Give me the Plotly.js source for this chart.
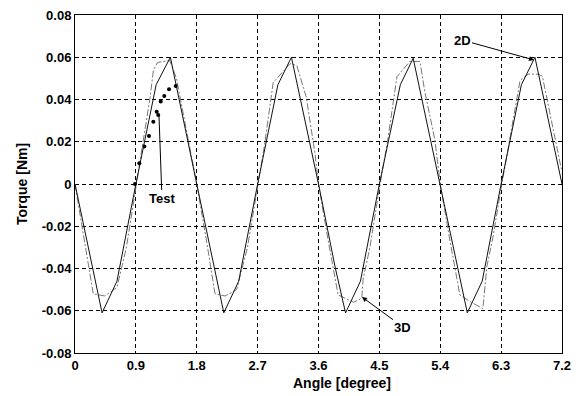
<!DOCTYPE html>
<html>
<head>
<meta charset="utf-8">
<script src="https://cdn.plot.ly/plotly-3.0.1.min.js"></script>
<style>html,body{margin:0;padding:0;background:#fff;}#chart{width:582px;height:396px;}</style>
</head>
<body>
<div id="chart"></div>
<script>
// 2D simulation (solid)
const x2D = [0, 0.25, 0.4, 0.62, 0.9, 1.2, 1.41, 1.8,
             2.05, 2.2, 2.42, 2.7, 3.0, 3.2, 3.6,
             3.85, 4.0, 4.22, 4.5, 4.81, 5.0, 5.4,
             5.65, 5.8, 6.02, 6.3, 6.6, 6.8, 7.2];
const y2D = [0, -0.038, -0.061, -0.046, 0, 0.047, 0.060, 0,
             -0.038, -0.061, -0.046, 0, 0.047, 0.060, 0,
             -0.040, -0.061, -0.046, 0, 0.047, 0.0595, 0,
             -0.038, -0.061, -0.046, 0, 0.047, 0.060, 0];
// 3D simulation (dash-dot)
const x3D = [0, 0.15, 0.27, 0.44, 0.62, 0.76, 0.9, 1.0, 1.11, 1.16, 1.22, 1.4, 1.5, 1.56, 1.72, 1.8,
             1.95, 2.07, 2.22, 2.39, 2.55, 2.7, 2.8, 2.93, 3.18, 3.28, 3.42, 3.55, 3.6,
             3.75, 3.89, 4.12, 4.24, 4.26, 4.36, 4.5, 4.62, 4.76, 4.95, 5.1, 5.17, 5.32, 5.4,
             5.55, 5.69, 5.86, 6.03, 6.09, 6.18, 6.3, 6.42, 6.58, 6.7, 6.85, 6.91, 7.02, 7.19];
const y3D = [0, -0.028, -0.052, -0.053, -0.049, -0.030, -0.002, 0.018, 0.041, 0.054, 0.0575, 0.0585, 0.050, 0.040, 0.014, 0,
             -0.028, -0.052, -0.053, -0.050, -0.030, -0.002, 0.018, 0.048, 0.057, 0.056, 0.041, 0.014, 0,
             -0.028, -0.0525, -0.056, -0.054, -0.045, -0.030, -0.002, 0.020, 0.0508, 0.058, 0.058, 0.044, 0.021, 0,
             -0.028, -0.0525, -0.056, -0.059, -0.039, -0.025, -0.002, 0.020, 0.049, 0.052, 0.052, 0.051, 0.033, 0.007];
// Test measurement (dots)
const xTest = [0.887, 0.951, 1.025, 1.094, 1.158, 1.208, 1.231, 1.267, 1.32, 1.39, 1.49];
const yTest = [0, 0.0098, 0.0177, 0.0227, 0.0295, 0.0342, 0.0327, 0.039, 0.0417, 0.0448, 0.0464];

const xTicks = [0, 0.9, 1.8, 2.7, 3.6, 4.5, 5.4, 6.3, 7.2];
const xTickText = ['0', '0.9', '1.8', '2.7', '3.6', '4.5', '5.4', '6.3', '7.2'];
const yTicks = [-0.08, -0.06, -0.04, -0.02, 0, 0.02, 0.04, 0.06, 0.08];
const yTickText = ['-0.08', '-0.06', '-0.04', '-0.02', '0', '0.02', '0.04', '0.06', '0.08'];

const F = 'Liberation Sans, Arial, sans-serif';

const traces = [
  {x: x3D, y: y3D, mode: 'lines', name: '3D',
   line: {color: '#777', width: 1, dash: '7px,2px,2px,2px'}},
  {x: x2D, y: y2D, mode: 'lines', name: '2D',
   line: {color: '#111', width: 1}},
  {x: xTest, y: yTest, mode: 'markers', name: 'Test',
   marker: {color: '#000', size: 4}}
];

const axisCommon = {
  showline: true, mirror: true, linecolor: '#000', linewidth: 1,
  showgrid: true, gridcolor: '#000', gridwidth: 1, griddash: '4px,3px',
  zeroline: false, ticks: '',
  tickfont: {family: F, size: 13, color: '#000', weight: 'bold'}
};

const layout = {
  width: 582, height: 396,
  margin: {l: 75, r: 20, t: 15, b: 43},
  paper_bgcolor: '#fff', plot_bgcolor: '#fff',
  showlegend: false,
  xaxis: Object.assign({}, axisCommon, {
    range: [0, 7.2], tickmode: 'array', tickvals: xTicks, ticktext: xTickText
  }),
  yaxis: Object.assign({}, axisCommon, {
    range: [-0.08, 0.08], tickmode: 'array', tickvals: yTicks, ticktext: yTickText,
    title: {text: 'Torque [Nm]', font: {family: F, size: 14, color: '#000', weight: 'bold'}, standoff: 10}
  }),
  annotations: [
    {xref: 'paper', yref: 'paper', x: 0.548, y: -0.089, yanchor: 'middle', showarrow: false,
     text: 'Angle [degree]', font: {family: F, size: 14, color: '#000', weight: 'bold'}},
    {x: 1.242, y: 0.0322, xref: 'x', yref: 'y', text: 'Test', showarrow: true,
     arrowhead: 0, arrowwidth: 1, arrowcolor: '#000', ax: 3, ay: 83,
     font: {family: F, size: 13, color: '#000', weight: 'bold'}},
    {x: 6.786, y: 0.0587, xref: 'x', yref: 'y', text: '2D', showarrow: true,
     arrowhead: 2, arrowsize: 1, arrowwidth: 1, arrowcolor: '#000', ax: -72, ay: -20,
     font: {family: F, size: 13, color: '#000', weight: 'bold'}},
    {x: 4.243, y: -0.0535, xref: 'x', yref: 'y', text: '3D', showarrow: true,
     arrowhead: 2, arrowsize: 1, arrowwidth: 1, arrowcolor: '#000', ax: 41, ay: 30,
     font: {family: F, size: 13, color: '#000', weight: 'bold'}}
  ]
};

Plotly.newPlot('chart', traces, layout, {displayModeBar: false, staticPlot: true});
</script>
</body>
</html>
